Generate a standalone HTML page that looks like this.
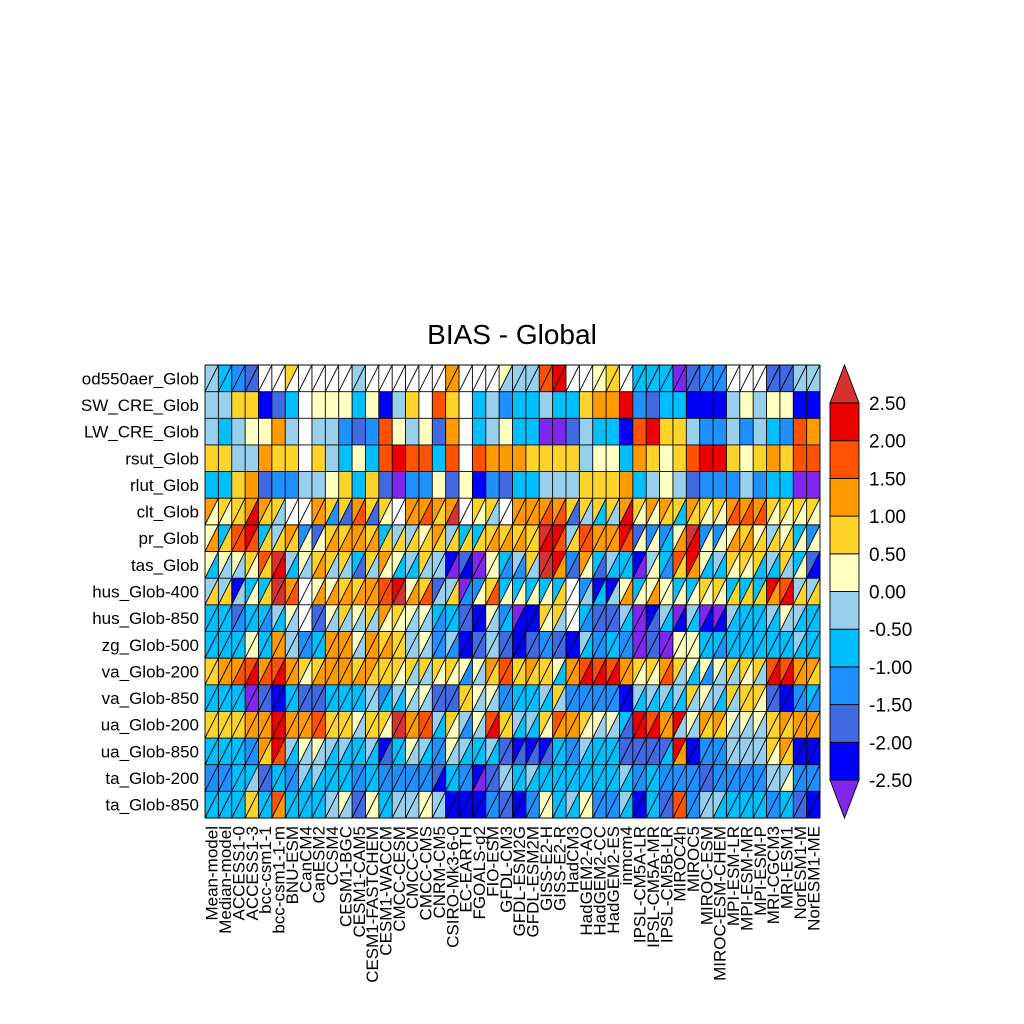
<!DOCTYPE html>
<html><head><meta charset="utf-8"><title>BIAS - Global</title>
<style>
html,body{margin:0;padding:0;background:#fff;}
svg{display:block;font-family:"Liberation Sans",sans-serif;}
</style></head>
<body>
<svg id="chart" width="1024" height="1024" viewBox="0 0 1024 1024" xmlns="http://www.w3.org/2000/svg">
<text x="512" y="344" font-size="28" text-anchor="middle" fill="#000">BIAS - Global</text>
<g id="cells"></g>
<g id="rowlabels"></g>
<g id="collabels"></g>
<g id="cbar"></g>
</svg>
<script>
const rowNames = ["od550aer_Glob","SW_CRE_Glob","LW_CRE_Glob","rsut_Glob","rlut_Glob","clt_Glob","pr_Glob","tas_Glob","hus_Glob-400","hus_Glob-850","zg_Glob-500","va_Glob-200","va_Glob-850","ua_Glob-200","ua_Glob-850","ta_Glob-200","ta_Glob-850"];
const modelNames = ["Mean-model","Median-model","ACCESS1-0","ACCESS1-3","bcc-csm1-1","bcc-csm1-1-m","BNU-ESM","CanCM4","CanESM2","CCSM4","CESM1-BGC","CESM1-CAM5","CESM1-FASTCHEM","CESM1-WACCM","CMCC-CESM","CMCC-CM","CMCC-CMS","CNRM-CM5","CSIRO-Mk3-6-0","EC-EARTH","FGOALS-g2","FIO-ESM","GFDL-CM3","GFDL-ESM2G","GFDL-ESM2M","GISS-E2-H","GISS-E2-R","HadCM3","HadGEM2-AO","HadGEM2-CC","HadGEM2-ES","inmcm4","IPSL-CM5A-LR","IPSL-CM5A-MR","IPSL-CM5B-LR","MIROC4h","MIROC5","MIROC-ESM","MIROC-ESM-CHEM","MPI-ESM-LR","MPI-ESM-MR","MPI-ESM-P","MRI-CGCM3","MRI-ESM1","NorESM1-M","NorESM1-ME"];
const splitRows = [true,false,false,false,false,true,true,true,true,true,true,true,true,true,true,true,true];
const levelTicks = [-2.5,-2.0,-1.5,-1.0,-0.5,0.0,0.5,1.0,1.5,2.0,2.5];
const tickLabels = ["-2.50","-2.00","-1.50","-1.00","-0.50","0.00","0.50","1.00","1.50","2.00","2.50"];
const levelColors = ["#8026ee","#0000ff","#4169e1","#1e90ff","#00bfff","#98cfec","#ffffc0","#ffd42a","#ff9a00","#ff5200","#ee0000","#d73232"];
const upperVals = [
[-.25,-.75,-1.25,-1.75,null,null,.75,null,null,null,null,-.25,null,null,null,null,null,null,1.25,null,null,null,.25,-.25,-.25,1.75,2.25,null,null,.25,.75,null,-.75,-.75,-.75,-2.75,-1.75,-1.25,-1.25,null,null,null,-1.75,-1.75,-.25,-.25],
[-.25,-.25,.75,.75,-2.25,-1.75,-.75,null,.25,.25,.25,-.75,.25,-2.25,-.25,.75,null,1.75,.75,null,-.75,-.25,-1.25,-.75,-.75,-.25,-.75,-.75,.75,1.25,1.25,2.25,-1.25,-1.75,-.75,-.75,-2.25,-2.25,-2.25,-.25,.25,-.25,.25,.25,-2.25,-2.25],
[-.25,-.75,-.25,.25,.25,1.25,-.25,null,-.25,-.25,-1.25,-1.75,-1.25,1.75,.25,-.25,.25,-1.75,1.25,null,-.75,-.25,.25,-.75,-.75,-2.75,-2.75,-1.75,-.25,-.75,-.75,-2.25,1.75,2.25,.75,.75,-.25,-1.25,-1.25,-.25,-1.25,-.25,-.75,-1.25,1.75,1.25],
[.75,.75,-.25,-.25,1.25,.75,.75,null,.75,-.25,-.75,.25,-.75,1.75,2.25,1.75,1.75,-.75,1.75,null,1.75,1.25,1.25,1.25,.75,.75,.75,.75,-.25,.25,.25,-.75,1.25,.75,.25,.75,1.75,2.25,2.25,.75,.25,.75,1.25,.75,1.75,1.75],
[-.75,-.75,.75,1.25,-1.75,-1.25,-1.25,-.25,-.25,.25,.75,-.75,.75,-1.75,-2.75,-1.25,-1.25,.25,-1.75,.25,-2.25,-1.25,-1.75,-.75,-.75,-.25,-.25,-.25,.75,.75,.75,1.25,-.75,-.25,.25,-.25,-1.75,-1.25,-1.25,-1.25,-.25,-1.25,-.75,-.75,-2.75,-2.75],
[1.25,.75,.75,1.25,1.25,.75,null,null,1.25,.75,.75,1.25,.75,.75,null,1.25,1.25,1.25,1.25,null,.75,.75,null,1.25,1.25,1.25,1.25,.75,.75,.75,.75,1.25,.75,1.25,1.25,.75,1.25,.75,.75,1.25,1.25,1.25,.75,.75,.75,.75],
[.25,-.75,1.75,2.25,-.75,-.25,1.25,-1.25,-1.75,.75,.75,1.25,.75,-.75,-.25,-.25,.25,1.25,-.25,-.75,-.75,.75,.75,.75,.75,2.75,2.25,-.25,1.75,1.25,1.25,2.25,-1.75,-1.25,-1.25,.25,2.75,-1.25,-1.25,.25,.75,.25,-.25,.25,-.75,-1.25],
[.25,.25,.25,.75,1.75,2.75,-.25,.25,.75,.75,.75,-.75,.75,1.25,.25,-.25,.75,-.25,-2.25,-1.75,-2.75,.25,-.75,-.25,.75,2.75,2.25,-1.25,1.25,-.75,-.25,-.75,-2.25,-.25,-.75,1.75,2.25,.25,-.25,.75,.75,.75,-.25,.75,-.75,-1.75],
[-.25,-.25,-2.25,-.75,-.75,2.75,1.25,null,.25,.25,.75,.75,1.25,1.75,2.25,.25,.75,-1.75,-.25,-2.75,-1.25,.75,-.75,-.75,-.75,-.75,-.75,null,-1.25,-2.25,-2.25,.25,-.75,.25,.25,-.75,-.75,.75,.75,-.75,-.75,-.75,2.25,1.75,-.25,-.25],
[-.75,-.75,-1.75,-.75,-.75,-.25,.25,null,-1.75,.25,.75,.25,.75,1.25,.75,.25,.25,-.75,-.75,-1.75,-2.25,.25,-1.25,-2.75,-2.25,.75,.75,null,-.75,-1.75,-1.75,-.25,-2.75,-2.25,-.25,-2.75,-.25,-2.75,-2.75,-.25,-.75,-.75,-.25,.25,-.25,-.75],
[-.75,-.75,-.75,.25,-.75,1.25,-.25,-1.25,-.75,1.25,1.25,.25,1.25,.75,.75,-.25,.25,-1.25,-.25,-2.25,-1.75,-.25,-1.75,-2.25,-1.75,-1.25,-1.75,-2.25,-.25,-1.25,-.75,-1.25,-2.75,-1.75,-2.75,.25,.25,-.75,-.75,-.75,-.75,-.75,-.75,-.75,-.25,-.75],
[.75,1.25,1.25,1.75,1.25,1.75,1.25,.75,.75,1.25,1.25,.75,1.25,.75,.75,.75,.75,.75,.75,.25,.25,1.25,1.75,.75,1.25,.75,.25,1.25,1.75,1.75,1.75,1.25,.75,.75,1.25,.75,.25,.25,.25,.75,.75,.75,1.75,1.75,1.25,1.25],
[-.75,-.75,-.75,-2.75,-1.75,-2.25,-.75,-1.75,-1.75,-.75,-.75,-.75,-.25,-1.25,-.25,.25,.25,-1.75,-1.75,.75,.25,.25,-1.25,-.75,-.75,-.25,.75,-1.25,-1.25,-1.25,-1.25,-2.25,-.25,-.25,-.25,-.25,.75,.25,-.25,.75,.75,.75,-1.75,-2.25,-1.25,-.75],
[.75,.75,.75,1.25,1.25,2.25,1.25,1.25,1.75,.75,.75,.25,.75,.75,2.75,1.25,1.75,-.25,.75,-.25,.25,1.75,.75,-.25,-.25,.75,1.75,1.25,.75,.25,.25,-.75,2.25,1.75,1.25,2.25,.25,1.25,1.25,.25,.25,.25,.75,1.25,1.25,1.25],
[-.75,-.75,-.75,-1.25,1.25,2.25,-.25,.25,.25,-.25,-.25,-.75,-.25,-2.25,-.75,.25,-.25,-1.25,.25,-.25,-.75,-.25,-1.75,-2.25,-2.25,-2.25,-.75,-1.25,-.25,-.75,-.75,-1.75,-1.75,-1.75,-1.75,2.25,-2.25,-1.25,-1.25,-.25,-.25,-.25,.75,1.25,-2.25,-2.25],
[-1.25,-1.25,-.75,-.75,-1.75,-.75,-1.25,-.25,-.25,-.75,-.75,-1.25,-.75,-1.25,-1.25,-1.25,-1.25,-1.75,-.75,-1.25,-2.25,-1.75,-.25,-.75,-.25,-.75,-.75,-.75,-.75,-.75,-.75,-.25,-1.25,-.75,-1.25,-1.25,-1.25,-1.75,-1.25,-1.25,-1.25,-1.25,-.25,-.25,-1.25,-1.25],
[-.75,-.75,-.75,.75,-.75,1.75,-.75,-.75,-.75,-.25,.25,-1.75,.25,-.75,-.25,-.25,.25,-.25,-2.25,-2.25,-2.25,-1.25,-1.75,-2.25,-1.25,.25,-.75,-.25,.25,-1.25,-1.25,-.25,-2.25,-.75,-1.75,1.75,-1.25,-.25,-.25,-.75,-.75,-.75,-1.25,-.75,-1.75,-2.25]
];
const lowerVals = [
[-.25,-.75,-1.25,-1.75,null,null,null,null,null,null,null,-.25,null,null,null,null,null,null,1.25,null,null,null,-.25,-.25,-.25,1.75,2.25,null,null,.25,.75,null,-.75,-.75,-.75,-2.75,-1.75,-1.25,-1.25,null,null,null,-1.75,-1.75,-.25,-.25],
[],[],[],[],
[.25,.25,.75,2.25,.75,-.25,null,null,1.25,-1.25,-1.75,1.75,-1.75,.25,null,1.25,1.75,.75,2.75,null,.25,-.25,null,1.25,1.25,1.75,1.75,-1.75,-.25,-.75,-.25,2.25,.25,.25,.75,-.75,.75,.25,.25,1.75,1.75,1.75,.25,.25,.25,.25],
[1.25,.75,1.75,1.75,.75,.75,.75,.25,.25,1.25,1.25,1.25,1.25,.75,.75,.75,.75,.75,.75,.75,.75,1.25,1.25,1.25,.75,2.25,1.75,.75,1.75,1.25,1.25,1.75,.25,.25,-.75,1.25,2.25,.25,.25,1.25,1.25,.75,.75,.75,.25,.25],
[-.75,-.25,-.25,.25,.75,2.25,-.75,-.25,1.25,-.25,-.25,-1.75,-.25,.25,-.75,-.75,-.25,-.25,-2.75,-2.25,-2.75,.25,-1.25,-1.25,-.25,2.75,1.25,-1.75,.25,-1.75,-.75,-.75,-2.75,.25,-1.25,.75,1.25,-.75,-.75,.25,.25,-.75,-.75,-.25,.25,-2.25],
[.75,.75,-.25,.25,.75,2.75,1.75,null,1.25,1.25,1.25,1.25,1.25,1.75,2.75,1.25,1.75,-.25,.75,-1.25,.25,1.75,.25,.25,.25,.25,.75,null,-.25,-.75,-.25,1.25,.25,1.25,.25,.25,.25,.25,.25,.75,.75,.75,1.25,2.25,.75,.75],
[-.75,-.75,-1.25,-.75,-1.25,-.75,-.25,null,-1.75,-.25,-.25,-.25,-.25,.25,.25,-.25,-.25,-1.25,-.75,-1.75,-2.25,-.25,-.75,-2.25,-2.25,.25,-.25,null,-1.25,-1.75,-1.75,-.75,-2.75,-1.75,-.75,-2.25,-.75,-2.25,-2.25,-.75,-.75,-.75,-.75,-.25,-.75,-.75],
[-.75,-.75,-.75,.25,-.75,1.25,-.25,-1.25,-.75,1.25,1.25,-.25,1.25,1.25,.75,-.25,-.25,-1.25,-1.25,-2.25,-1.75,-.25,-1.75,-2.25,-1.75,-1.25,-1.75,-2.25,-.75,-1.25,-.75,-1.25,-2.75,-1.75,-2.75,.25,.25,-.75,-1.25,-.75,-.75,-.75,-.75,-.75,-.75,-.75],
[.75,1.25,1.75,2.25,1.75,2.25,1.25,.25,1.25,1.25,1.25,1.25,.75,.75,.25,-.25,-.25,.25,.25,-1.25,-.25,.75,1.75,.75,.75,.75,-.75,1.25,2.25,2.25,2.25,1.25,.25,.25,1.75,-.25,-.75,-1.25,-.25,-.25,.25,-.25,2.25,2.25,1.25,.75],
[-.75,-.75,-.75,-2.75,-1.75,-2.25,-.75,-1.75,-1.75,-.75,-.75,-.75,-.25,-.75,-.75,-.25,-.25,-1.75,-1.75,.75,-.25,-.25,-1.25,-.75,-.75,-.75,-.25,-1.25,-1.25,-1.25,-1.25,-2.25,-.75,-.75,-.75,-.75,-.25,-.25,-.75,-.25,.75,.25,-1.75,-2.25,-1.25,-1.25],
[.75,.75,.75,1.25,1.25,2.25,1.25,1.25,1.75,.75,.75,-.25,.75,.25,2.75,1.25,1.75,-.75,.25,-1.25,-.25,2.25,.75,-.75,-.75,.25,1.25,1.25,.25,-.25,-.25,-1.75,2.25,2.25,1.25,-.25,-.25,.75,.75,-.25,-.25,-.25,.75,.75,1.25,1.25],
[-.75,-.75,-.75,-1.25,.75,1.75,-.75,-.25,-.25,-.75,-.75,-.75,-.75,-1.75,-.75,-.25,-.75,-1.25,-.25,-.75,-.75,-.75,-1.75,-1.75,-1.75,-1.75,-.75,-1.25,-.75,-.75,-.75,-1.75,-1.75,-1.75,-.75,1.25,-2.25,-1.25,-1.25,-.25,-.25,-.25,.25,.75,-2.25,-2.25],
[-1.25,-1.25,-.75,-.25,-1.75,-.75,-1.25,-.75,-.75,-.75,-.75,-1.25,-.75,-1.25,-1.25,-1.25,-1.25,-2.25,-.75,-1.25,-2.75,-1.75,-.25,-.75,-.75,-.75,-.75,-.75,-.75,-.75,-.75,-.75,-1.25,-.75,-1.25,-1.25,-1.25,-1.75,-1.25,-1.25,-1.25,-1.25,-.25,.25,-1.25,-1.25],
[-.75,-.75,-.75,.75,-.75,1.25,-.75,-.75,-.75,-.25,-.25,-1.75,.25,-.75,-.25,-.25,.25,-.25,-2.25,-2.25,-2.25,-1.25,-1.75,-2.25,-1.25,.25,-.75,-.75,.25,-1.25,-1.25,-.75,-2.25,-.75,-1.75,1.75,-1.25,-.25,-.75,-.75,-.75,-.75,-1.25,-.75,-1.75,-2.25]
];

const NS = "http://www.w3.org/2000/svg";
const gx0 = 205, gx1 = 820, gy0 = 365, gy1 = 818;
const cw = (gx1 - gx0) / modelNames.length;
const rh = (gy1 - gy0) / rowNames.length;
function xPos(i){ return gx0 + i * cw; }
function yPos(j){ return gy0 + j * rh; }
function colorOf(v){
  if (v === null || v === undefined) return "#ffffff";
  let k = Math.floor((v - levelTicks[0]) / 0.5) + 1;
  if (v < levelTicks[0]) k = 0;
  if (k > levelColors.length - 1) k = levelColors.length - 1;
  if (k < 0) k = 0;
  return levelColors[k];
}
function mk(tag, attrs, parent){
  const e = document.createElementNS(NS, tag);
  for (const k in attrs) e.setAttribute(k, attrs[k]);
  parent.appendChild(e);
  return e;
}
const cells = document.getElementById("cells");
for (let j = 0; j < rowNames.length; j++){
  for (let i = 0; i < modelNames.length; i++){
    const x = xPos(i), y = yPos(j), x2 = xPos(i+1), y2 = yPos(j+1);
    const u = upperVals[j][i];
    if (splitRows[j]){
      const l = lowerVals[j][i];
      const t1 = mk("polygon", {points:`${x},${y} ${x2},${y} ${x},${y2}`, fill:colorOf(u), stroke:"none"}, cells);
      
      
      const t2 = mk("polygon", {points:`${x2},${y} ${x2},${y2} ${x},${y2}`, fill:colorOf(l), stroke:"none"}, cells);
      
      
      const d = mk("line", {x1:x, y1:y2, x2:x2, y2:y, stroke:"#000", "stroke-width":0.9}, cells);
      
      
    } else {
      const r = mk("rect", {x:x, y:y, width:cw, height:rh, fill:colorOf(u)}, cells);
      
      
    }
  }
}
for (let i = 0; i <= modelNames.length; i++){
  const l = mk("line", {x1:xPos(i), y1:gy0, x2:xPos(i), y2:gy1, stroke:"#000", "stroke-width":0.9}, cells);
  
  
}
for (let j = 0; j <= rowNames.length; j++){
  const l = mk("line", {x1:gx0, y1:yPos(j), x2:gx1, y2:yPos(j), stroke:"#000", "stroke-width":0.9}, cells);
  
  
}
const rl = document.getElementById("rowlabels");
rowNames.forEach((n, j) => {
  const t = mk("text", {x:199, y:yPos(j) + rh/2 + 6, "font-size":17, "text-anchor":"end", fill:"#000"}, rl);
  t.textContent = n;
  
  
});
const cl = document.getElementById("collabels");
modelNames.forEach((n, i) => {
  const cx = xPos(i) + cw/2 + 6, cy = 826;
  const t = mk("text", {x:cx, y:cy, "font-size":17, "text-anchor":"end", fill:"#000", transform:`rotate(-90 ${cx} ${cy})`}, cl);
  t.textContent = n;
  
  
});
const cb = document.getElementById("cbar");
const bx0 = 830, bx1 = 859, by0 = 403, by1 = 780;
const nb = levelTicks.length - 1;
const bh = (by1 - by0) / nb;
function cbY(v){ return by1 - (v - levelTicks[0]) / (levelTicks[nb] - levelTicks[0]) * (by1 - by0); }
for (let k = 0; k < nb; k++){
  const r = mk("rect", {x:bx0, y:cbY(levelTicks[k+1]), width:bx1-bx0, height:bh, fill:levelColors[k+1], stroke:"#000", "stroke-width":0.9}, cb);
  
  
}
const up = mk("polygon", {points:`${bx0},${by0} ${bx1},${by0} ${(bx0+bx1)/2},365`, fill:levelColors[levelColors.length-1], stroke:"#000", "stroke-width":0.9}, cb);


const dn = mk("polygon", {points:`${bx0},${by1} ${bx1},${by1} ${(bx0+bx1)/2},818`, fill:levelColors[0], stroke:"#000", "stroke-width":0.9}, cb);


levelTicks.forEach((v, k) => {
  const t = mk("text", {x:869, y:cbY(v) + 7, "font-size":19, fill:"#000"}, cb);
  t.textContent = tickLabels[k];
  
  
});
</script>
</body></html>
